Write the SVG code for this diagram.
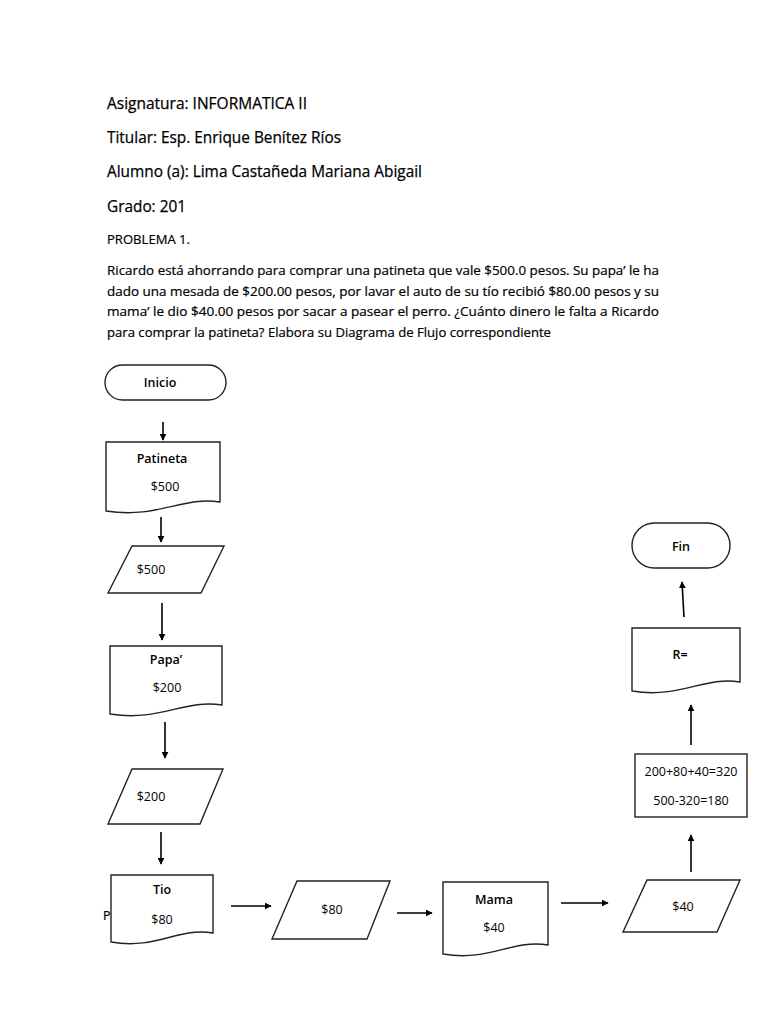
<svg xmlns="http://www.w3.org/2000/svg" width="768" height="1024" viewBox="0 0 768 1024">
<defs>
<marker id="ah" viewBox="0 0 10 10" refX="9" refY="5" markerWidth="7" markerHeight="7" markerUnits="userSpaceOnUse" orient="auto"><path d="M0,0 L10,5 L0,10 Z" fill="#000"/></marker>
<style>
.hd{font-family:"Open Sans","Noto Sans",sans-serif;font-size:15.5px;fill:#000;stroke:#000;stroke-width:0.25}
.pg{font-family:"Open Sans","Noto Sans",sans-serif;font-size:12.5px;fill:#000;stroke:#000;stroke-width:0.2}
.sh{fill:#fff;stroke:#222;stroke-width:1.4}
.lb{font-family:"Open Sans","Noto Sans",sans-serif;font-size:12.5px;fill:#000;text-anchor:middle}
.b{font-weight:600}
.cn{stroke:#000;stroke-width:1.6;fill:none;marker-end:url(#ah)}
</style>
</defs>
<rect width="768" height="1024" fill="#fff"/>
<g id="header">
<text class="hd" x="107" y="109" textLength="200" lengthAdjust="spacingAndGlyphs">Asignatura: INFORMATICA II</text>
<text class="hd" x="107" y="143" textLength="234" lengthAdjust="spacingAndGlyphs">Titular: Esp. Enrique Benítez Ríos</text>
<text class="hd" x="107" y="177" textLength="315" lengthAdjust="spacingAndGlyphs">Alumno (a): Lima Castañeda Mariana Abigail</text>
<text class="hd" x="107" y="212" textLength="79" lengthAdjust="spacingAndGlyphs">Grado: 201</text>
<text class="pg" x="107" y="244" textLength="83" lengthAdjust="spacingAndGlyphs">PROBLEMA 1.</text>
<text class="pg" x="107" y="275" textLength="552" lengthAdjust="spacingAndGlyphs">Ricardo está ahorrando para comprar una patineta que vale $500.0 pesos. Su papa’ le ha</text>
<text class="pg" x="107" y="296" textLength="552" lengthAdjust="spacingAndGlyphs">dado una mesada de $200.00 pesos, por lavar el auto de su tío recibió $80.00 pesos y su</text>
<text class="pg" x="107" y="316" textLength="552" lengthAdjust="spacingAndGlyphs">mama’ le dio $40.00 pesos por sacar a pasear el perro. ¿Cuánto dinero le falta a Ricardo</text>
<text class="pg" x="107" y="337" textLength="444" lengthAdjust="spacingAndGlyphs">para comprar la patineta? Elabora su Diagrama de Flujo correspondiente</text>
<text class="pg" x="103" y="920">P</text>
</g>
<g id="connectors">
<line class="cn" x1="163" y1="422" x2="163" y2="440"/>
<line class="cn" x1="161" y1="517" x2="161" y2="542"/>
<line class="cn" x1="162" y1="603" x2="162" y2="640"/>
<line class="cn" x1="165" y1="722" x2="165" y2="758"/>
<line class="cn" x1="161" y1="832" x2="161" y2="864"/>
<line class="cn" x1="231" y1="906" x2="271" y2="906"/>
<line class="cn" x1="397" y1="913" x2="432" y2="913"/>
<line class="cn" x1="561" y1="903" x2="608" y2="903"/>
<line class="cn" x1="691" y1="872" x2="691" y2="835"/>
<line class="cn" x1="691" y1="745" x2="691" y2="705"/>
<line class="cn" x1="684" y1="617" x2="682" y2="582"/>
</g>
<g id="inicio">
<rect class="sh" x="105" y="365" width="121" height="35" rx="17.5"/>
<text class="lb b" x="160" y="387">Inicio</text>
</g>
<g id="patineta">
<path class="sh" d="M106,442 H220 V502 C182,496 158,519 106,511 Z"/>
<text class="lb b" x="162" y="463">Patineta</text>
<text class="lb" x="165" y="491">$500</text>
</g>
<g id="in500">
<path class="sh" d="M132,546 H224 L201,593 H108 Z"/>
<text class="lb" x="151" y="574">$500</text>
</g>
<g id="papa">
<path class="sh" d="M110,646 H222 V705 C184,699 160,722 110,714 Z"/>
<text class="lb b" x="166" y="664">Papa’</text>
<text class="lb" x="167" y="692">$200</text>
</g>
<g id="in200">
<path class="sh" d="M132,769 H223 L200,824 H108 Z"/>
<text class="lb" x="151" y="801">$200</text>
</g>
<g id="tio">
<path class="sh" d="M111,875 H213 V933 C178,927 156,950 111,942 Z"/>
<text class="lb b" x="162" y="894">Tio</text>
<text class="lb" x="162" y="924">$80</text>
</g>
<g id="in80">
<path class="sh" d="M297,881 H390 L367,939 H272 Z"/>
<text class="lb" x="332" y="914">$80</text>
</g>
<g id="mama">
<path class="sh" d="M443,882 H548 V945 C512,939 490,962 443,954 Z"/>
<text class="lb b" x="494" y="904">Mama</text>
<text class="lb" x="494" y="932">$40</text>
</g>
<g id="in40">
<path class="sh" d="M647,880 H740 L717,932 H623 Z"/>
<text class="lb" x="683" y="911">$40</text>
</g>
<g id="proceso">
<rect class="sh" x="635" y="754" width="112" height="63"/>
<text class="lb" x="691" y="776">200+80+40=320</text>
<text class="lb" x="691" y="805">500-320=180</text>
</g>
<g id="resultado">
<path class="sh" d="M632,628 H740 V682 C704,676 680,699 632,691 Z"/>
<text class="lb b" x="680" y="659">R=</text>
</g>
<g id="fin">
<rect class="sh" x="632" y="523" width="98" height="45" rx="22.5"/>
<text class="lb b" x="681" y="551">Fin</text>
</g>
</svg>
